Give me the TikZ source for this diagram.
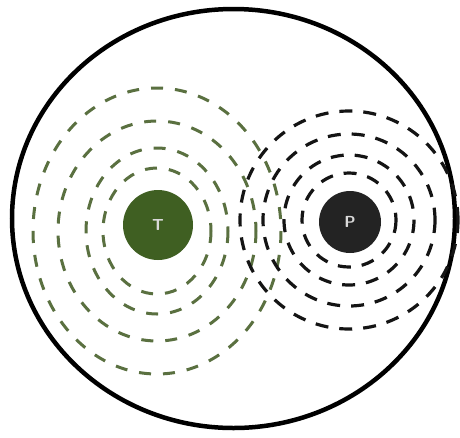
\documentclass[tikz,border=0pt]{standalone}
\begin{document}
\begin{tikzpicture}[x=1pt,y=-1pt,
  greenring/.style={draw=ringgreen,line width=3pt,dash pattern=on 12pt off 12pt},
  blackring/.style={draw=black!92,line width=3.2pt,dash pattern=on 13pt off 11pt},
  core/.style={circle,inner sep=0pt,text=white!85!black,font=\sffamily\bfseries\fontsize{16}{16}\selectfont}]
\definecolor{ringgreen}{HTML}{5A7040}
\definecolor{tgreen}{HTML}{3F5F22}
\definecolor{pblack}{HTML}{232323}
\useasboundingbox (0,0) rectangle (460,437);
\fill[white] (0,0) rectangle (460,437);
% outer boundary
\draw[line width=4.5pt] (233.5,218.5) ellipse [x radius=221.5, y radius=209.5];
% green rings around T
\foreach \rx/\ry in {124/143, 99/110, 71/83, 54/63}
  \draw[greenring] (157,231) ellipse [x radius=\rx, y radius=\ry];
% black rings around P
\foreach \r in {109, 86, 65, 47}
  \draw[blackring] (349,220) circle [radius=\r];
% cores
\node[core,fill=tgreen,minimum size=70pt] (T) at (158,225) {T};
\node[core,fill=pblack,minimum size=62pt] (P) at (350,222) {P};
\end{tikzpicture}
\end{document}
